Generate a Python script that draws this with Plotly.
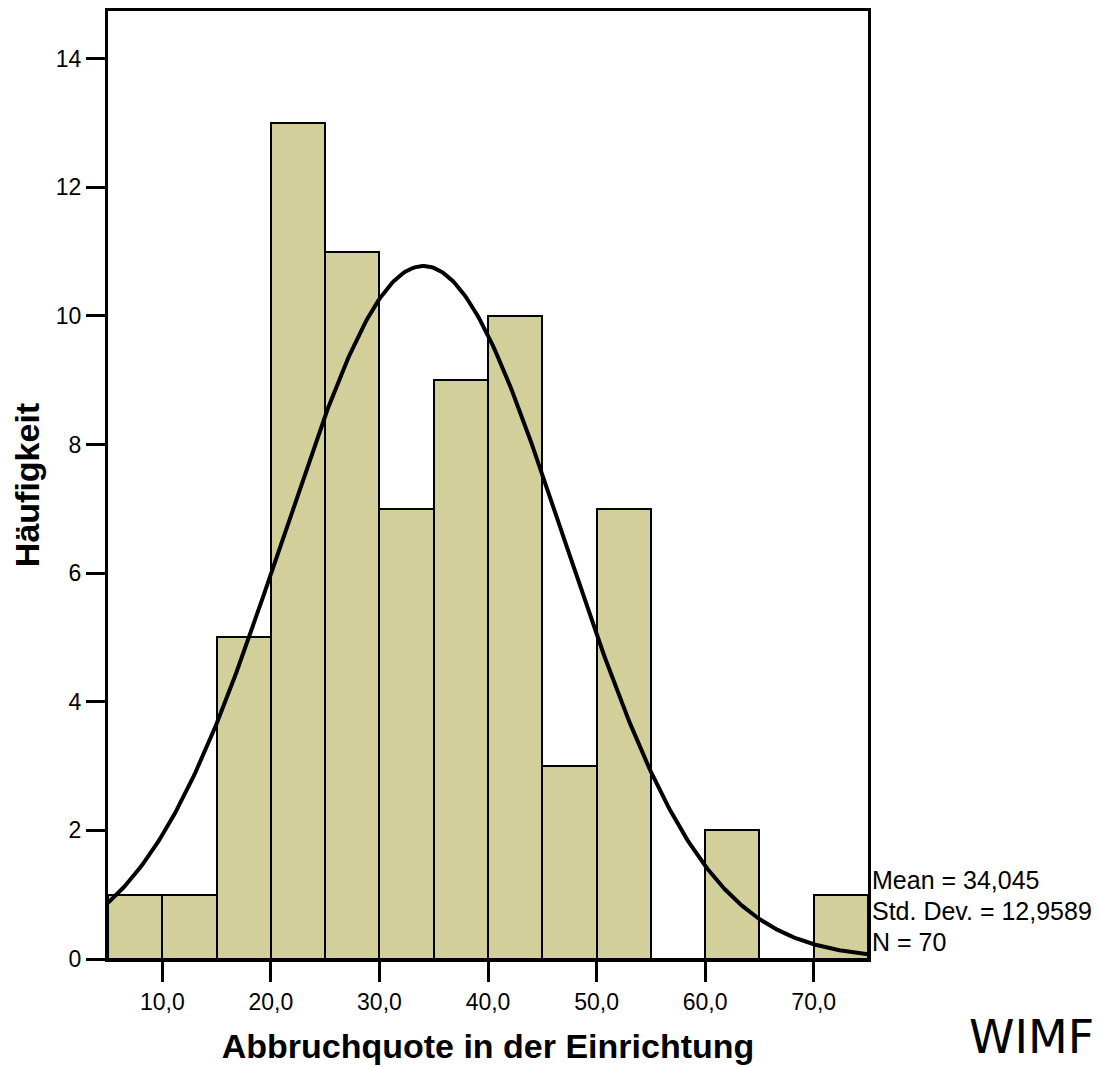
import numpy as np
import plotly.graph_objects as go

# Data
bin_starts = [5, 10, 15, 20, 25, 30, 35, 40, 45, 50, 55, 60, 65, 70]
bin_width = 5
counts = [1, 1, 5, 13, 11, 7, 9, 10, 3, 7, 0, 2, 0, 1]
mean_val = 34.045
sd_val = 12.9589
n_val = 70
x_tick_vals = [10, 20, 30, 40, 50, 60, 70]
x_tick_text = ["10,0", "20,0", "30,0", "40,0", "50,0", "60,0", "70,0"]
y_tick_vals = [0, 2, 4, 6, 8, 10, 12, 14]
stats_lines = ["Mean = 34,045", "Std. Dev. = 12,9589", "N = 70"]

centers = [s + bin_width / 2 for s in bin_starts]

fig = go.Figure()
fig.add_trace(go.Bar(
    x=centers, y=counts, width=[bin_width] * len(counts),
    marker=dict(color="#D3CF9A", line=dict(color="black", width=2)),
    showlegend=False, hoverinfo="skip",
))

# Normal curve scaled to the histogram (from the stated mean/sd/N)
xc = np.linspace(5, 75, 400)
yc = n_val * bin_width / (sd_val * np.sqrt(2 * np.pi)) * np.exp(-0.5 * ((xc - mean_val) / sd_val) ** 2)
fig.add_trace(go.Scatter(x=xc, y=yc, mode="lines", line=dict(color="black", width=4),
                         showlegend=False, hoverinfo="skip"))

font_family = "Liberation Sans, Arial, Helvetica, sans-serif"

fig.update_layout(
    width=1099, height=1067,
    margin=dict(l=108, r=231, t=8, b=108),
    plot_bgcolor="white", paper_bgcolor="white",
    bargap=0,
    font=dict(family=font_family, color="black", size=23),
    xaxis=dict(
        range=[5, 75], tickvals=x_tick_vals, ticktext=x_tick_text,
        ticks="outside", ticklen=20, tickwidth=3, tickcolor="black",
        showline=True, linecolor="black", linewidth=3, mirror=True,
        showgrid=False, zeroline=False,
        tickfont=dict(size=23),
        title=dict(text="<b>Abbruchquote in der Einrichtung</b>", font=dict(size=34), standoff=21),
    ),
    yaxis=dict(
        range=[0, 14.74], tickvals=y_tick_vals,
        ticks="outside", ticklen=19, tickwidth=3, tickcolor="black",
        showline=True, linecolor="black", linewidth=3, mirror=True,
        showgrid=False, zeroline=False,
        tickfont=dict(size=23),
        title=dict(text="<b>Häufigkeit</b>", font=dict(size=34), standoff=6),
    ),
)

for i, t in enumerate(stats_lines):
    fig.add_annotation(xref="paper", yref="paper", x=1.0, xshift=2, y=(959 - 880 - i * 31) / 951,
                       text=t, showarrow=False, xanchor="left", yanchor="middle",
                       font=dict(size=25, family=font_family))

fig.add_annotation(xref="paper", yref="paper", x=(1095 - 108) / 760, y=-(1065 - 959) / 951,
                   text="WIMF", showarrow=False, xanchor="right", yanchor="bottom",
                   borderpad=0,
                   font=dict(size=46, family="DejaVu Sans, sans-serif"))

fig.write_html("out.html", config={"displayModeBar": False},
               post_script="document.body.style.margin='0px';")
